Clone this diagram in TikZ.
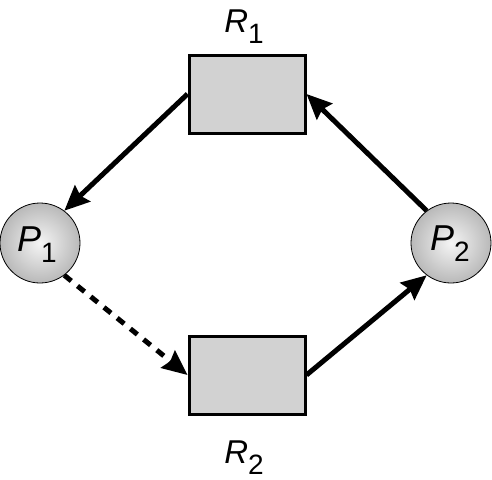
\documentclass[tikz,border=0pt]{standalone}
\usepackage{fontspec}
\setmainfont{Liberation Sans}
\usetikzlibrary{arrows.meta}
\tikzset{
  resbox/.style={draw=black, line width=3pt, fill=gray!35, minimum width=116pt, minimum height=78pt, inner sep=0pt},
  proc/.style={circle, draw=black, line width=0.8pt, minimum size=80pt, inner sep=0pt, shading=radial, inner color=gray!8, outer color=gray!55},
  edge/.style={line width=5pt, -{Stealth[length=25pt,width=22pt,inset=3pt]}},
  lbl/.style={anchor=base, inner sep=0pt}
}
\newcommand{\lab}[4]{{\fontsize{#3}{#3}\selectfont\itshape #1}\raisebox{-11pt}{\fontsize{#4}{#4}\selectfont #2}}
\begin{document}
\begin{tikzpicture}[x=1pt,y=-1pt]
\useasboundingbox (0,0) rectangle (492,479);
\node[resbox] (R1) at (247,94) {};
\node[resbox] (R2) at (247,375) {};
\node[proc] (P1) at (40,243) {};
\node[proc] (P2) at (451,243) {};
\node[lbl] (L1) at (244,32) {\lab{R}{1}{33}{28}};
\node[lbl] (L2) at (244,463) {\lab{R}{2}{33}{28}};
\node[lbl] (T1) at (37,251) {\lab{P}{1}{36}{28}};
\node[lbl] (T2) at (450,250) {\lab{P}{2}{36}{28}};
\draw[edge] (R1.west) -- (P1.53);
\draw[edge] (P2.127) -- (R1.east);
\draw[edge, dash pattern=on 9pt off 8pt] (P1.-53) -- (R2.west);
\draw[edge] (R2.east) -- (P2.233);
\end{tikzpicture}
\end{document}
